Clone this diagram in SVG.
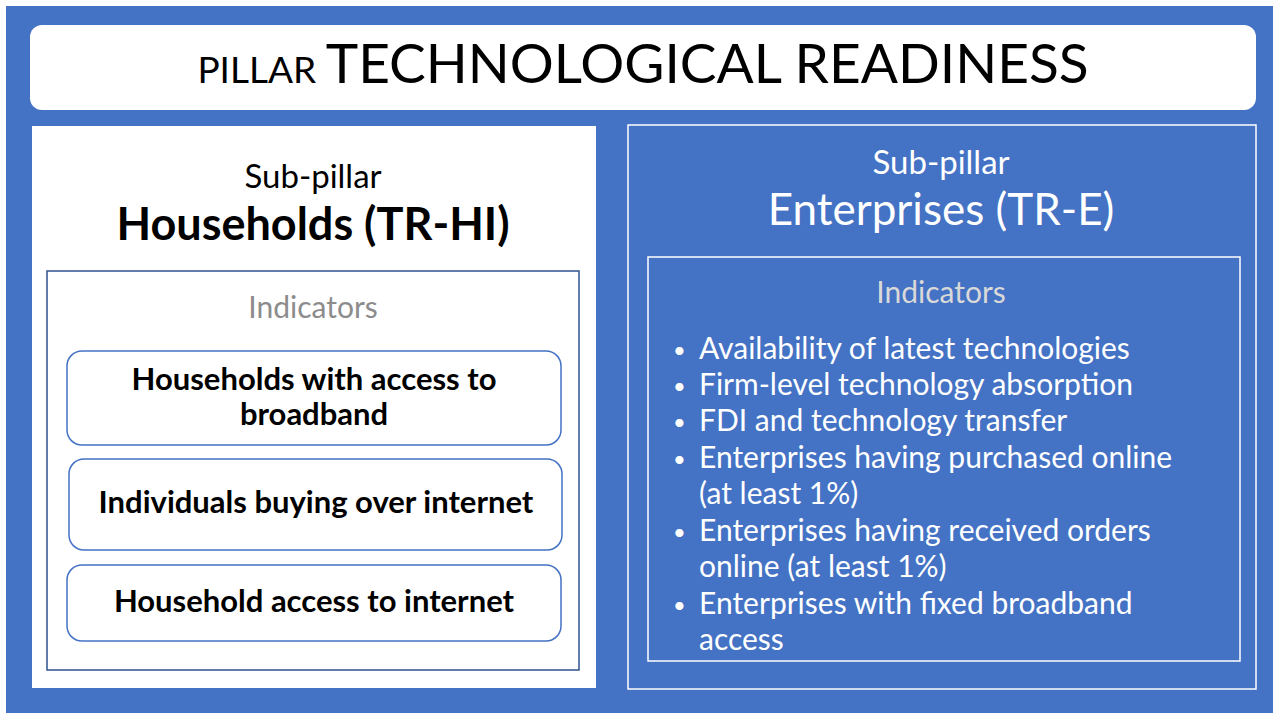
<svg xmlns="http://www.w3.org/2000/svg" width="1273" height="713" viewBox="0 0 1273 713">
<style>
.t{font-family:Lato,"Liberation Sans",sans-serif}
.blk{fill:#000}
.wht{fill:#fff}
.ind{stroke:#4472C4;stroke-width:1.5;fill:#fff}
.item{font-size:31px;font-weight:bold;text-anchor:middle}
.bul{font-size:30px;fill:#fff}
.dot{font-size:22px}
</style>
<rect x="0" y="0" width="1273" height="713" fill="#fff"/>
<rect x="6" y="6" width="1267" height="707" fill="#4472C4"/>
<g id="title">
<rect x="30" y="25" width="1226" height="85" rx="12" fill="#fff"/>
<text class="t blk" x="643" y="83" text-anchor="middle"><tspan font-size="37">PILLAR </tspan><tspan font-size="55">TECHNOLOGICAL READINESS</tspan></text>
</g>
<g id="households">
<rect x="32" y="126" width="564" height="562" fill="#fff"/>
<text class="t blk" x="313" y="188" text-anchor="middle" font-size="33">Sub-pillar</text>
<text class="t blk" x="313" y="240" text-anchor="middle" font-size="45" font-weight="bold">Households (TR-HI)</text>
<rect x="47" y="271" width="532" height="399" fill="none" stroke="#2F528F" stroke-width="1.5"/>
<text class="t" x="313" y="318" text-anchor="middle" font-size="30" fill="#8C8C8C">Indicators</text>
</g>
<g id="ind1">
<rect class="ind" x="67" y="351" width="494" height="94" rx="15"/>
<text class="t blk item" x="314" y="390">Households with access to</text>
<text class="t blk item" x="314" y="425">broadband</text>
</g>
<g id="ind2">
<rect class="ind" x="69" y="459" width="493" height="91" rx="15"/>
<text class="t blk item" x="316" y="513">Individuals buying over internet</text>
</g>
<g id="ind3">
<rect class="ind" x="67" y="565" width="494" height="76" rx="15"/>
<text class="t blk item" x="314" y="612">Household access to internet</text>
</g>
<g id="enterprises">
<rect x="628" y="125" width="628" height="564" fill="none" stroke="#fff" stroke-width="1.5"/>
<text class="t wht" x="941" y="174" text-anchor="middle" font-size="33">Sub-pillar</text>
<text class="t wht" x="941" y="225" text-anchor="middle" font-size="44">Enterprises (TR-E)</text>
<rect x="648" y="257" width="592" height="404" fill="none" stroke="#fff" stroke-width="1.5"/>
<text class="t" x="941" y="303" text-anchor="middle" font-size="30" fill="#D9D9D9">Indicators</text>
<g class="t bul">
<text class="dot" x="673" y="358">•</text><text x="699" y="359">Availability of latest technologies</text>
<text class="dot" x="673" y="394">•</text><text x="699" y="395">Firm-level technology absorption</text>
<text class="dot" x="673" y="430">•</text><text x="699" y="431">FDI and technology transfer</text>
<text class="dot" x="673" y="467">•</text><text x="699" y="468">Enterprises having purchased online</text>
<text x="699" y="504">(at least 1%)</text>
<text class="dot" x="673" y="540">•</text><text x="699" y="541">Enterprises having received orders</text>
<text x="699" y="577">online (at least 1%)</text>
<text class="dot" x="673" y="613">•</text><text x="699" y="614">Enterprises with fixed broadband</text>
<text x="699" y="650">access</text>
</g>
</g>
<g id="connectors"></g>
</svg>
